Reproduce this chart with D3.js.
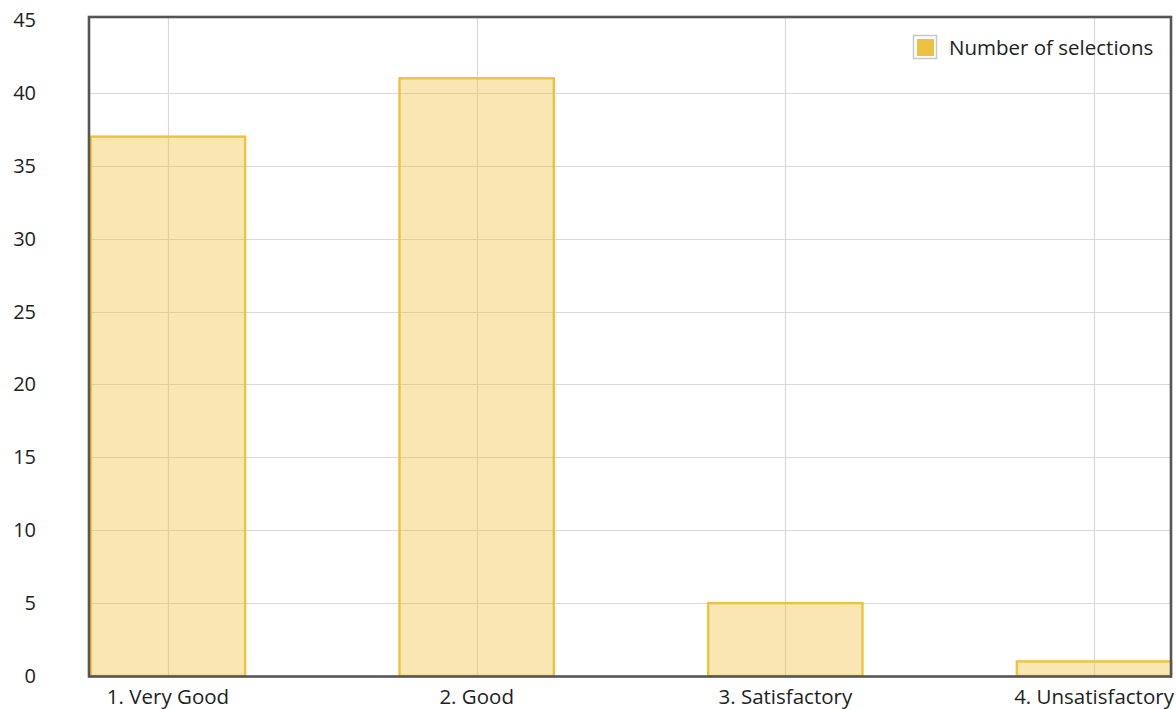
<!DOCTYPE html>
<html>
<head>
<meta charset="utf-8">
<script src="https://cdn.jsdelivr.net/npm/d3@7"></script>
<style>
  html, body { margin: 0; padding: 0; background: #fff; }
  svg { display: block; font-family: "Open Sans", "Noto Sans", sans-serif; }
</style>
</head>
<body>
<svg id="chart" width="1176" height="709"></svg>
<script>
const categories = ["1. Very Good", "2. Good", "3. Satisfactory", "4. Unsatisfactory"];
const values = [37, 41, 5, 1];
const yTicks = [0, 5, 10, 15, 20, 25, 30, 35, 40, 45];
const seriesName = "Number of selections";

const svg = d3.select("#chart");
const pLeft = 89, pRight = 1171, pTop = 18, pBottom = 676;

const x = d3.scalePoint().domain(categories).range([90.8, 1171.2]).padding(0.25);
const y = d3.scaleLinear().domain([0, 45]).range([pBottom, 20]);
const barW = x.step() / 2;

// grid
const grid = svg.append("g");
grid.selectAll("line.h").data(yTicks.filter(t => t > 0 && t < 45)).enter().append("line")
  .attr("x1", pLeft).attr("x2", pRight)
  .attr("y1", d => Math.round(y(d)) + 0.5).attr("y2", d => Math.round(y(d)) + 0.5)
  .attr("stroke", "#d9d9d9").attr("stroke-width", 1.2);
grid.selectAll("line.v").data(categories).enter().append("line")
  .attr("x1", d => Math.round(x(d)) + 0.5).attr("x2", d => Math.round(x(d)) + 0.5)
  .attr("y1", pTop).attr("y2", pBottom)
  .attr("stroke", "#d9d9d9").attr("stroke-width", 1.2);

// bars
svg.append("g").selectAll("rect").data(values).enter().append("rect")
  .attr("x", (d, i) => x(categories[i]) - barW / 2)
  .attr("width", barW)
  .attr("y", d => y(d))
  .attr("height", d => pBottom - y(d))
  .attr("fill", "rgba(237,194,64,0.4)")
  .attr("stroke", "#edc240")
  .attr("stroke-width", 2.4);

// frame
svg.append("rect")
  .attr("x", pLeft).attr("y", 17)
  .attr("width", pRight - pLeft).attr("height", pBottom + 0.5 - 17)
  .attr("fill", "none").attr("stroke", "#555").attr("stroke-width", 2.6);

// y labels
svg.append("g").selectAll("text").data(yTicks).enter().append("text")
  .attr("x", 36).attr("y", d => y(d))
  .attr("dy", "0.35em")
  .attr("text-anchor", "end")
  .attr("font-size", 20)
  .attr("fill", "#222")
  .text(d => d);

// x labels
svg.append("g").selectAll("text").data(categories).enter().append("text")
  .attr("x", d => x(d)).attr("y", 697)
  .attr("dy", "0.35em")
  .attr("text-anchor", "middle")
  .attr("font-size", 20.5)
  .attr("fill", "#222")
  .text(d => d);

// legend
const lg = svg.append("g");
lg.append("rect").attr("x", 913.5).attr("y", 35.5).attr("width", 23).attr("height", 23)
  .attr("fill", "#fff").attr("stroke", "#c8c8c8").attr("stroke-width", 1.5);
lg.append("rect").attr("x", 917).attr("y", 39).attr("width", 17).attr("height", 17)
  .attr("fill", "#edc240");
lg.append("text").attr("x", 949).attr("y", 48).attr("dy", "0.35em")
  .attr("font-size", 20.5).attr("fill", "#222").text(seriesName);
</script>
</body>
</html>
